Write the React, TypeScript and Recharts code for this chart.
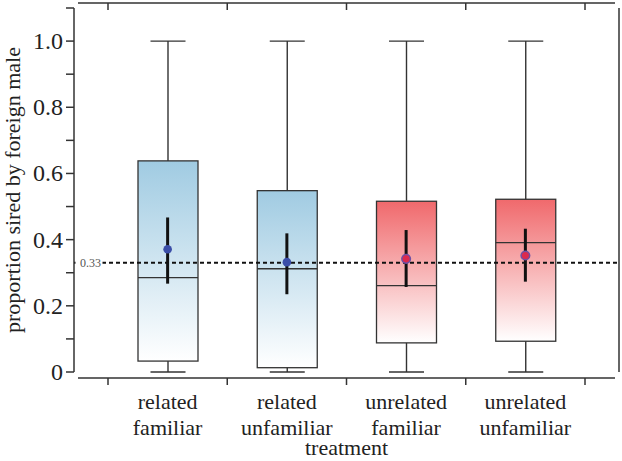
import { ComposedChart, Bar, Scatter, XAxis, YAxis, ReferenceLine, ErrorBar, Cell } from "recharts";

const categories = ["related familiar", "related unfamiliar", "unrelated familiar", "unrelated unfamiliar"];
const whiskerMin = [0, 0, 0, 0];
const whiskerMax = [1, 1, 1, 1];
const q1 = [0.033, 0.013, 0.088, 0.093];
const q3 = [0.638, 0.548, 0.516, 0.522];
const medians = [0.285, 0.312, 0.261, 0.391];
const means = [0.371, 0.332, 0.342, 0.352];
const ciLow = [0.267, 0.235, 0.257, 0.273];
const ciHigh = [0.467, 0.419, 0.429, 0.433];
const yTicks = [0, 0.1, 0.2, 0.3, 0.4, 0.5, 0.6, 0.7, 0.8, 0.9, 1.0, 1.1];
const yTickLabels = ["0", "", "0.2", "", "0.4", "", "0.6", "", "0.8", "", "1.0", ""];
const chanceLevel = 0.33;

// frame lines sit a few px outside the 0..1.1 range
const FRAME_TOP = 1.115;
const FRAME_BOTTOM = -0.018;

const W = 622;
const H = 461;
const LEFT_W = 74;
const RIGHT_W = 3;
const TOP_H = 8;
const BOTTOM_H = 89;
const PAD = 34;
const PLOT_W = W - LEFT_W - RIGHT_W;
const HALF_BAND = (PLOT_W - 2 * PAD) / categories.length / 2;
const BOX_W = 60;
const CAP = 35;

const INK = "#333";
const TEXT = "#222";
const SERIF = "'Liberation Serif', 'Times New Roman', serif";

const rows = categories.map((name, i) => ({
  name,
  whisker: [whiskerMin[i], whiskerMax[i]],
  box: [q1[i], q3[i]],
  median: medians[i],
  mean: means[i],
  ci: [means[i] - ciLow[i], ciHigh[i] - means[i]],
  related: name.startsWith("related"),
}));

function WhiskerShape(p: any) {
  const cx = p.x + p.width / 2;
  const top = p.y;
  const bottom = p.y + p.height;
  return (
    <g stroke={INK} strokeWidth={1.4}>
      <line x1={cx} x2={cx} y1={top} y2={bottom} />
      <line x1={cx - CAP / 2} x2={cx + CAP / 2} y1={top} y2={top} />
      <line x1={cx - CAP / 2} x2={cx + CAP / 2} y1={bottom} y2={bottom} />
    </g>
  );
}

function BoxShape(p: any) {
  const { x, y, width, height, payload, fill } = p;
  const [lo, hi] = payload.box;
  const my = y + (height * (hi - payload.median)) / (hi - lo);
  return (
    <g>
      <rect x={x} y={y} width={width} height={height} fill={fill} stroke={INK} strokeWidth={1.3} />
      <line x1={x} x2={x + width} y1={my} y2={my} stroke={INK} strokeWidth={1.3} />
    </g>
  );
}

function MeanDot(p: any) {
  const related = p.payload?.related;
  return (
    <circle
      cx={p.cx}
      cy={p.cy}
      r={4.3}
      fill={related ? "#3b4ea8" : "#dc2a4e"}
      stroke={related ? "none" : "#6d4fa6"}
      strokeWidth={1.5}
    />
  );
}

function CategoryTick(p: any) {
  const { x, y, payload, index } = p;
  const lines = String(payload.value).split(" ");
  return (
    <g>
      <line x1={x - HALF_BAND} x2={x - HALF_BAND} y1={y + 6} y2={y + 13} stroke={INK} strokeWidth={1.5} />
      {index === categories.length - 1 && (
        <line x1={x + HALF_BAND} x2={x + HALF_BAND} y1={y + 6} y2={y + 13} stroke={INK} strokeWidth={1.5} />
      )}
      <text x={x} y={y + 37} textAnchor="middle" fontSize={22} fill={TEXT} style={{ fontFamily: SERIF }}>
        <tspan x={x}>{lines[0]}</tspan>
        <tspan x={x} dy={26}>{lines[1]}</tspan>
      </text>
    </g>
  );
}

function TopTick(p: any) {
  const { x, y, index } = p;
  return (
    <g stroke={INK} strokeWidth={1.5}>
      <line x1={x - HALF_BAND} x2={x - HALF_BAND} y1={y - 5} y2={y + 2} />
      {index === categories.length - 1 && <line x1={x + HALF_BAND} x2={x + HALF_BAND} y1={y - 5} y2={y + 2} />}
    </g>
  );
}

function LeftTick(p: any) {
  const { x, y, index } = p;
  return (
    <text x={x} y={y + 8} textAnchor="end" fontSize={24} fill={TEXT} style={{ fontFamily: SERIF }}>
      {yTickLabels[index] ?? ""}
    </text>
  );
}

function RightTick(p: any) {
  const { x, y } = p;
  return <line x1={x - 7} x2={x} y1={y} y2={y} stroke={INK} strokeWidth={1.5} />;
}

function ChanceLabel(p: any) {
  const vb = p.viewBox || {};
  return (
    <g>
      <rect x={vb.x + 1.5} y={vb.y - 3} width={27} height={6} fill="#fff" />
      <text x={vb.x + 27} y={vb.y + 4} textAnchor="end" fontSize={12} fill="#555" style={{ fontFamily: SERIF }}>
        {String(chanceLevel)}
      </text>
    </g>
  );
}

function YTitle(p: any) {
  const vb = p.viewBox || {};
  const cx = vb.x + 20;
  const cy = vb.y + vb.height / 2;
  return (
    <text
      x={cx}
      y={cy}
      transform={`rotate(-90 ${cx} ${cy})`}
      textAnchor="middle"
      fontSize={22}
      fill={TEXT}
      style={{ fontFamily: SERIF }}
    >
      proportion sired by foreign male
    </text>
  );
}

function XTitle(p: any) {
  const vb = p.viewBox || {};
  return (
    <text x={vb.x + vb.width / 2} y={455} textAnchor="middle" fontSize={22} fill={TEXT} style={{ fontFamily: SERIF }}>
      treatment
    </text>
  );
}

export default function App() {
  return (
    <div style={{ position: "absolute", left: 0, top: 0, width: W, height: H, background: "#fff" }}>
      <ComposedChart width={W} height={H} data={rows} margin={{ top: 0, right: 0, bottom: 0, left: 0 }} barGap={-BOX_W}>
        <defs>
          <linearGradient id="gBlue" x1="0" y1="0" x2="0" y2="1">
            <stop offset="0%" stopColor="#a0cbe2" />
            <stop offset="100%" stopColor="#ffffff" />
          </linearGradient>
          <linearGradient id="gRed" x1="0" y1="0" x2="0" y2="1">
            <stop offset="0%" stopColor="#f0696c" />
            <stop offset="100%" stopColor="#ffffff" />
          </linearGradient>
        </defs>
        <XAxis
          dataKey="name"
          height={BOTTOM_H}
          padding={{ left: PAD, right: PAD }}
          axisLine={false}
          tickLine={false}
          tickSize={0}
          tickMargin={0}
          interval={0}
          tick={CategoryTick}
          label={XTitle}
        />
        <XAxis
          xAxisId="top"
          dataKey="name"
          orientation="top"
          height={TOP_H}
          padding={{ left: PAD, right: PAD }}
          axisLine={false}
          tickLine={false}
          tickSize={0}
          tickMargin={0}
          interval={0}
          tick={TopTick}
        />
        <YAxis
          width={LEFT_W}
          domain={[0, 1.1]}
          ticks={yTicks}
          interval={0}
          tickSize={8}
          tickMargin={3}
          axisLine={{ stroke: INK, strokeWidth: 1.5 }}
          tickLine={{ stroke: INK, strokeWidth: 1.5 }}
          tick={LeftTick}
          label={YTitle}
        />
        <YAxis
          yAxisId="right"
          orientation="right"
          width={RIGHT_W}
          domain={[0, 1.1]}
          ticks={yTicks}
          interval={0}
          tickSize={0}
          tickMargin={0}
          axisLine={{ stroke: INK, strokeWidth: 1.5 }}
          tickLine={false}
          tick={RightTick}
        />
        <ReferenceLine y={FRAME_TOP} ifOverflow="visible" stroke={INK} strokeWidth={1.5} strokeDasharray={`0 4 ${PLOT_W - 8} 8`} />
        <ReferenceLine y={FRAME_BOTTOM} ifOverflow="visible" stroke={INK} strokeWidth={1.5} strokeDasharray={`0 4 ${PLOT_W - 8} 8`} />
        <Bar dataKey="whisker" barSize={BOX_W} shape={WhiskerShape} isAnimationActive={false} />
        <Bar dataKey="box" barSize={BOX_W} shape={BoxShape} isAnimationActive={false}>
          {rows.map((r) => (
            <Cell key={r.name} fill={r.related ? "url(#gBlue)" : "url(#gRed)"} />
          ))}
        </Bar>
        <ReferenceLine y={chanceLevel} stroke="#111" strokeWidth={2} strokeDasharray="4 3" label={ChanceLabel} />
        <Scatter dataKey="mean" shape={MeanDot} isAnimationActive={false}>
          <ErrorBar dataKey="ci" direction="y" width={0} stroke="#111" strokeWidth={3} isAnimationActive={false} />
        </Scatter>
      </ComposedChart>
    </div>
  );
}
